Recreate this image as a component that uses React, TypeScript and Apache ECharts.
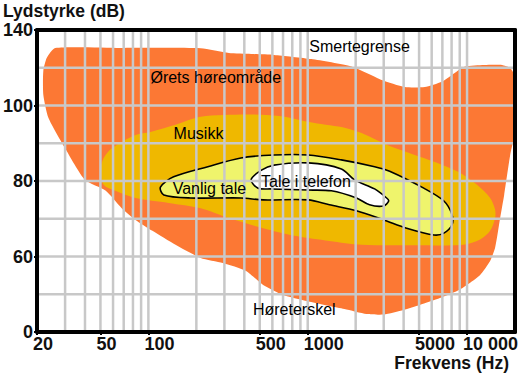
import React, { useEffect, useRef } from "react";
import * as echarts from "echarts";

// ---- axis definitions ----
const X_MIN_HZ = 20;
const X_MAX_HZ = 20000;
const X_TICK_HZ = [20, 50, 100, 500, 1000, 5000, 10000];
const X_GRID_HZ = [30, 40, 50, 60, 70, 80, 90, 100, 200, 300, 400, 500, 600, 700, 800, 900, 1000, 2000, 3000, 4000, 5000, 6000, 7000, 8000, 9000, 10000];
// the y axis of the original is drawn with uneven labels on even gridlines
const Y_GRID_STEPS = [1, 2, 3, 4, 5, 6, 7];
const Y_LABEL_STEPS = [0, 2, 4, 6, 8];
const Y_LABEL_DB = [0, 60, 80, 100, 140];

// ---- regions (frequency Hz, level dB) ----
const hearingHz = [26, 67, 213, 320, 441, 615, 1053, 1884, 2912, 4064, 5430, 6950, 8040, 9710, 12800, 16600, 18650, 19770, 19770, 18650, 17100, 16140, 15000, 13960, 12080, 10000, 8650, 6755, 5050, 4000, 3000, 2340, 1700, 1368, 980, 702, 525, 410, 293, 213, 148, 106, 83, 68, 54, 40, 30, 23.6, 21.9, 21.9, 23.0];
const hearingDb = [130.5, 130.5, 130.3, 127.8, 127.3, 126.8, 124.6, 120.6, 113.5, 109.8, 109.8, 112.6, 116.2, 120.6, 121.5, 121.5, 119.9, 116.2, 92.2, 86.9, 76.3, 70.2, 62.3, 56.4, 45.3, 37.4, 32.6, 27, 21.5, 17.5, 13.9, 14.3, 18.3, 20.7, 24.6, 29.4, 37.4, 48.5, 54.8, 58.8, 63.1, 66.8, 69.7, 72.8, 77.4, 80.3, 88.7, 96.7, 105.7, 118.3, 125.2];

const musicHz = [50, 52.4, 59, 83, 103, 148, 213, 410, 662, 1084, 1750, 2178, 3268, 5350, 8650, 11550, 13960, 15000, 15000, 13960, 12080, 9500, 5350, 2178, 1368, 848, 525, 320, 213, 134, 83, 62, 52.4];
const musicDb = [83, 86.1, 88.7, 92.2, 93, 94.9, 97, 97.6, 97.2, 95.4, 94, 92.7, 89.3, 86.1, 82.6, 79, 75.5, 72.4, 70.2, 66.8, 64.5, 63.1, 63, 63.1, 64.1, 65.4, 67.5, 70.2, 72.8, 74.2, 75.5, 77.4, 79];

const speechHz = [119, 144, 236, 381, 615, 1008, 1626, 2630, 3268, 5350, 7160, 8040, 8040, 7160, 6195, 4180, 3000, 2024, 1368, 1008, 525, 381, 184, 125];
const speechDb = [78.4, 81.1, 83.8, 86.1, 86.9, 86.9, 85.6, 83.8, 82.6, 78.1, 74.7, 71.1, 68.4, 66.2, 65.7, 67.5, 69.7, 72.1, 73.7, 75, 75, 75.5, 75.5, 76.3];

const phoneHz = [441, 509, 615, 1008, 1626, 1966, 2630, 3128, 3222, 3000, 2443, 2024, 1408, 1008, 589, 488];
const phoneDb = [80.3, 82.8, 84.2, 84.8, 83.2, 80.3, 77.9, 75.5, 74.7, 73.4, 73.7, 75.5, 77.4, 77.6, 77.9, 78.1];

const labelText = ["Ørets høreområde", "Smertegrense", "Musikk", "Vanlig tale", "Tale i telefon", "Høreterskel"];
const labelHz = [103, 1023, 144, 142, 509, 453];
const labelDb = [114.6, 131, 92.7, 77.9, 80, 17.5];

const FONT = '"Liberation Sans", Arial, sans-serif';
const INK = "#111";

function dbToStep(db: number): number {
  for (let i = 1; i < Y_LABEL_DB.length; i++) {
    if (db <= Y_LABEL_DB[i] || i === Y_LABEL_DB.length - 1) {
      const a = Y_LABEL_DB[i - 1];
      const b = Y_LABEL_DB[i];
      const sa = Y_LABEL_STEPS[i - 1];
      const sb = Y_LABEL_STEPS[i];
      return sa + ((db - a) / (b - a)) * (sb - sa);
    }
  }
  return 0;
}

const XMIN = Math.log10(X_MIN_HZ);
const XMAX = Math.log10(X_MAX_HZ);
const YMIN = Y_LABEL_STEPS[0];
const YMAX = Y_LABEL_STEPS[Y_LABEL_STEPS.length - 1];

function areaSeries(name: string, hz: number[], db: number[], fill: string, stroke: string | null, z: number, smooth: number) {
  const pts = hz.map((h, i) => [Math.log10(h), dbToStep(db[i])]);
  return {
    type: "custom",
    name,
    z,
    silent: true,
    clip: true,
    data: [pts[0]],
    renderItem: (_p: any, api: any) => ({
      type: "polygon",
      shape: { points: pts.map((p) => api.coord(p)), smooth },
      style: stroke ? { fill, stroke, lineWidth: 1.6 } : { fill },
    }),
  };
}

function fmtHz(v: number): string {
  const n = Math.round(Math.pow(10, v));
  if (n >= 10000) {
    const s = String(n);
    return s.slice(0, s.length - 3) + " " + s.slice(s.length - 3);
  }
  return String(n);
}

export default function App() {
  const ref = useRef<HTMLDivElement>(null);
  useEffect(() => {
    if (!ref.current) return;
    const chart = echarts.init(ref.current, undefined, { renderer: "svg" });
    const border = { show: true, onZero: false, lineStyle: { color: "#000", width: 4 } };
    const option: any = {
      animation: false,
      backgroundColor: "#fff",
      grid: { left: 37, right: 10, top: 30, bottom: 43, containLabel: false },
      xAxis: [
        {
          type: "value",
          min: XMIN,
          max: XMAX,
          position: "bottom",
          z: 10,
          axisLine: border,
          axisTick: {
            show: true,
            customValues: X_TICK_HZ.map((h) => Math.log10(h)),
            length: 3,
            lineStyle: { color: "#000", width: 2 },
          },
          axisLabel: {
            customValues: X_TICK_HZ.map((h) => Math.log10(h)),
            formatter: (v: number) => fmtHz(v),
            align: "left",
            padding: [0, 0, 0, -4],
            margin: 3,
            fontSize: 18,
            fontWeight: "bold",
            fontFamily: FONT,
            color: INK,
          },
          splitLine: { show: false },
        },
        {
          type: "value",
          min: XMIN,
          max: XMAX,
          position: "top",
          z: 10,
          axisLine: border,
          axisTick: { show: false },
          axisLabel: { show: false },
          splitLine: { show: false },
        },
      ],
      yAxis: [
        {
          type: "value",
          min: YMIN,
          max: YMAX,
          interval: 1,
          position: "left",
          z: 10,
          axisLine: border,
          axisTick: {
            show: true,
            customValues: Y_LABEL_STEPS,
            length: 3,
            lineStyle: { color: "#000", width: 2 },
          },
          axisLabel: {
            customValues: Y_LABEL_STEPS,
            formatter: (v: number) => {
              const i = Y_LABEL_STEPS.indexOf(Math.round(v));
              return i >= 0 ? String(Y_LABEL_DB[i]) : "";
            },
            margin: 4,
            fontSize: 18,
            fontWeight: "bold",
            fontFamily: FONT,
            color: INK,
          },
          splitLine: { show: false },
        },
        {
          type: "value",
          min: YMIN,
          max: YMAX,
          interval: 1,
          position: "right",
          z: 10,
          axisLine: border,
          axisTick: { show: false },
          axisLabel: { show: false },
          splitLine: { show: false },
        },
      ],
      series: [
        areaSeries("Ørets høreområde", hearingHz, hearingDb, "#fc7834", null, 1, 0.2),
        areaSeries("Musikk", musicHz, musicDb, "#efb800", null, 2, 0.3),
        areaSeries("Vanlig tale", speechHz, speechDb, "#eff46c", "#000", 3, 0.3),
        areaSeries("Tale i telefon", phoneHz, phoneDb, "#ffffff", "#000", 4, 0.3),
        {
          type: "custom",
          name: "vgrid",
          z: 5,
          silent: true,
          data: X_GRID_HZ.map((h) => [Math.log10(h), YMIN]),
          renderItem: (_p: any, api: any) => {
            const x = api.value(0);
            const a = api.coord([x, YMIN]);
            const b = api.coord([x, YMAX]);
            return { type: "line", shape: { x1: a[0], y1: a[1], x2: b[0], y2: b[1] }, style: { stroke: "#c8c8c8", lineWidth: 2.5 } };
          },
        },
        {
          type: "custom",
          name: "hgrid",
          z: 5,
          silent: true,
          data: Y_GRID_STEPS.map((s) => [XMIN, s]),
          renderItem: (_p: any, api: any) => {
            const y = api.value(1);
            const a = api.coord([XMIN, y]);
            const b = api.coord([XMAX, y]);
            return { type: "line", shape: { x1: a[0], y1: a[1], x2: b[0], y2: b[1] }, style: { stroke: "#c8c8c8", lineWidth: 2.5 } };
          },
        },
        {
          type: "custom",
          name: "labels",
          z: 6,
          silent: true,
          clip: false,
          data: labelHz.map((h, i) => [Math.log10(h), dbToStep(labelDb[i]), i]),
          renderItem: (_p: any, api: any) => {
            const p = api.coord([api.value(0), api.value(1)]);
            return {
              type: "text",
              x: p[0],
              y: p[1],
              style: {
                text: labelText[api.value(2)],
                font: `16px ${FONT}`,
                fill: "#000",
                align: "left",
                verticalAlign: "middle",
              },
            };
          },
        },
      ],
      graphic: [
        {
          type: "text",
          left: 3,
          top: 2,
          z: 20,
          style: { text: "Lydstyrke (dB)", font: `bold 17.5px ${FONT}`, fill: INK },
        },
        {
          type: "text",
          right: 16,
          top: 354,
          z: 20,
          style: { text: "Frekvens (Hz)", font: `bold 17.5px ${FONT}`, fill: INK },
        },
      ],
    };
    chart.setOption(option);
    return () => chart.dispose();
  }, []);
  return <div ref={ref} style={{ position: "absolute", left: 0, top: 0, width: 525, height: 375 }} />;
}
